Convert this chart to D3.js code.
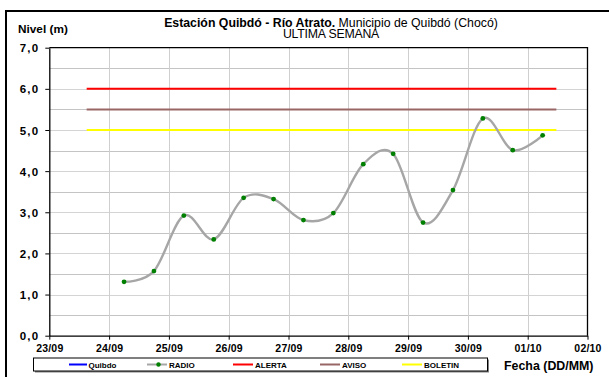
<!DOCTYPE html>
<html>
<head>
<meta charset="utf-8">
<script src="https://cdn.jsdelivr.net/npm/d3@7"></script>
<style>
  html, body { margin: 0; padding: 0; background: #fff; }
  svg { display: block; font-family: "Liberation Sans", Arial, sans-serif; }
</style>
</head>
<body>
<svg id="chart" width="609" height="377"></svg>
<script>
// ---- data ----
const times = [
  "2023-09-24T06:00", "2023-09-24T18:00",
  "2023-09-25T06:00", "2023-09-25T18:00",
  "2023-09-26T06:00", "2023-09-26T18:00",
  "2023-09-27T06:00", "2023-09-27T18:00",
  "2023-09-28T06:00", "2023-09-28T18:00",
  "2023-09-29T06:00", "2023-09-29T18:00",
  "2023-09-30T06:00", "2023-09-30T18:00",
  "2023-10-01T06:00"
];
const radio = [1.31, 1.57, 2.92, 2.34, 3.35, 3.32, 2.81, 2.98, 4.17, 4.42, 2.75, 3.54, 5.28, 4.51, 4.87];
const thresholdNames = ["ALERTA", "AVISO", "BOLETIN"];
const thresholdValues = [6.0, 5.5, 5.0];
const thresholdSpan = ["2023-09-23T15:00", "2023-10-01T11:30"];
const xDomain = ["2023-09-23T00:00", "2023-10-02T00:00"];
const yTicks = [0, 1, 2, 3, 4, 5, 6, 7];
const legendNames = ["Quibdo", "RADIO", "ALERTA", "AVISO", "BOLETIN"];

// ---- styles ----
const colors = { Quibdo: "#0000ff", RADIO: "#a6a6a6", ALERTA: "#ff0000", AVISO: "#996666", BOLETIN: "#ffff00" };

const parse = d3.timeParse("%Y-%m-%dT%H:%M");
const svg = d3.select("#chart");

const plot = { left: 49.3, right: 587.5, top: 47.7, bottom: 335.7 };
const x = d3.scaleTime().domain(xDomain.map(parse)).range([plot.left, plot.right]);
const y = d3.scaleLinear().domain([0, 7]).range([plot.bottom, plot.top]);

// outer frame
svg.append("rect").attr("x", 6).attr("y", 11).attr("width", 700).attr("height", 500)
  .attr("fill", "none").attr("stroke", "#000").attr("stroke-width", 2);

// grid
const g = svg.append("g");
const halfTicks = d3.range(0.5, 7, 0.5);
g.selectAll("line.hg").data(halfTicks).join("line")
  .attr("x1", plot.left).attr("x2", plot.right)
  .attr("y1", d => Math.round(y(d)) + 0.5).attr("y2", d => Math.round(y(d)) + 0.5)
  .attr("stroke", d => (d % 1 === 0) ? "#d4d4d4" : "#c4c4c4").attr("stroke-width", 1);
const dayTicks = d3.timeDay.range(parse(xDomain[0]), d3.timeDay.offset(parse(xDomain[1]), 1));
g.selectAll("line.vg").data(dayTicks.slice(1, -1)).join("line")
  .attr("y1", plot.top).attr("y2", plot.bottom)
  .attr("x1", d => Math.round(x(d)) + 0.5).attr("x2", d => Math.round(x(d)) + 0.5)
  .attr("stroke", "#cfcfcf").attr("stroke-width", 1);

// plot border top/right
svg.append("path")
  .attr("d", `M${plot.left},${plot.top}H${plot.right}V${plot.bottom}`)
  .attr("fill", "none").attr("stroke", "#000").attr("stroke-width", 1.3);

// axes
const xAxis = d3.axisBottom(x).tickValues(dayTicks.filter(d => d <= parse(xDomain[1])))
  .tickFormat(d3.timeFormat("%d/%m")).tickSize(4).tickSizeOuter(0);
const xa = svg.append("g").attr("transform", `translate(0,${plot.bottom})`).call(xAxis);
xa.select(".domain").attr("stroke", "#000").attr("stroke-width", 1.3);
xa.selectAll(".tick line").attr("stroke", "#000");
xa.selectAll(".tick text").attr("dy", "0").attr("y", 16)
  .attr("font-family", "Liberation Sans, Arial, sans-serif")
  .attr("font-size", 10.5).attr("font-weight", "bold").attr("fill", "#000")
  .attr("letter-spacing", 0.2);

const yAxis = d3.axisLeft(y).tickValues(yTicks).tickFormat(d => d3.format(".1f")(d).replace(".", ","))
  .tickSize(4).tickSizeOuter(0);
const ya = svg.append("g").attr("transform", `translate(${plot.left},0)`).call(yAxis);
ya.select(".domain").attr("stroke", "#000").attr("stroke-width", 1.3);
ya.selectAll(".tick line").attr("stroke", "#000");
ya.selectAll(".tick text").attr("x", -10).attr("dy", "0.35em")
  .attr("font-family", "Liberation Sans, Arial, sans-serif")
  .attr("font-size", 11.5).attr("font-weight", "bold").attr("fill", "#000")
  .attr("letter-spacing", 1.2);

// thresholds
const tx0 = parse(thresholdSpan[0]), tx1 = parse(thresholdSpan[1]);
svg.append("g").selectAll("line").data(thresholdNames).join("line")
  .attr("x1", x(tx0)).attr("x2", x(tx1))
  .attr("y1", (d, i) => y(thresholdValues[i])).attr("y2", (d, i) => y(thresholdValues[i]))
  .attr("stroke", d => colors[d]).attr("stroke-width", 2);

// radio series
const pts = times.map((t, i) => ({ t: parse(t), v: radio[i] }));
const line = d3.line().x(d => x(d.t)).y(d => y(d.v)).curve(d3.curveCatmullRom.alpha(0));
svg.append("path").datum(pts).attr("d", line)
  .attr("fill", "none").attr("stroke", colors.RADIO).attr("stroke-width", 2.4);
svg.append("g").selectAll("circle").data(pts).join("circle")
  .attr("cx", d => x(d.t)).attr("cy", d => y(d.v)).attr("r", 2.4).attr("fill", "#008000");

// titles
svg.append("text").attr("x", 18).attr("y", 33).attr("font-size", 11.8).attr("font-weight", "bold")
  .text("Nivel (m)");
const t1 = svg.append("text").attr("x", 331).attr("y", 26.5).attr("text-anchor", "middle").attr("font-size", 12.3);
t1.append("tspan").attr("font-weight", "bold").text("Estación Quibdó - Río Atrato.");
t1.append("tspan").text(" Municipio de Quibdó (Chocó)");
svg.append("text").attr("x", 331).attr("y", 38).attr("text-anchor", "middle").attr("font-size", 12.3)
  .attr("letter-spacing", -0.2).text("ULTIMA SEMANA");
svg.append("text").attr("x", 504).attr("y", 370).attr("font-size", 12.4).attr("font-weight", "bold")
  .text("Fecha (DD/MM)");

// legend
const lg = svg.append("g");
lg.append("rect").attr("x", 35).attr("y", 359.5).attr("width", 454).attr("height", 13).attr("fill", "#808080");
lg.append("rect").attr("x", 33.5).attr("y", 358).attr("width", 454).attr("height", 13)
  .attr("fill", "#fff").attr("stroke", "#000").attr("stroke-width", 1);
const legendX = [69, 147, 233, 320, 402];
const items = lg.selectAll("g.item").data(legendNames).join("g")
  .attr("transform", (d, i) => `translate(${legendX[i]},364.5)`);
items.append("line").attr("x1", 0).attr("x2", d => d === "Quibdo" ? 18 : 20).attr("y1", 0).attr("y2", 0)
  .attr("stroke", d => colors[d]).attr("stroke-width", 2);
items.filter(d => d === "RADIO").append("circle").attr("cx", 11.5).attr("cy", 0).attr("r", 2.2).attr("fill", "#008000");
items.append("text").attr("x", d => d === "Quibdo" ? 19.5 : 22).attr("y", 3).attr("font-size", 8)
  .attr("font-weight", "bold").text(d => d);
</script>
</body>
</html>
